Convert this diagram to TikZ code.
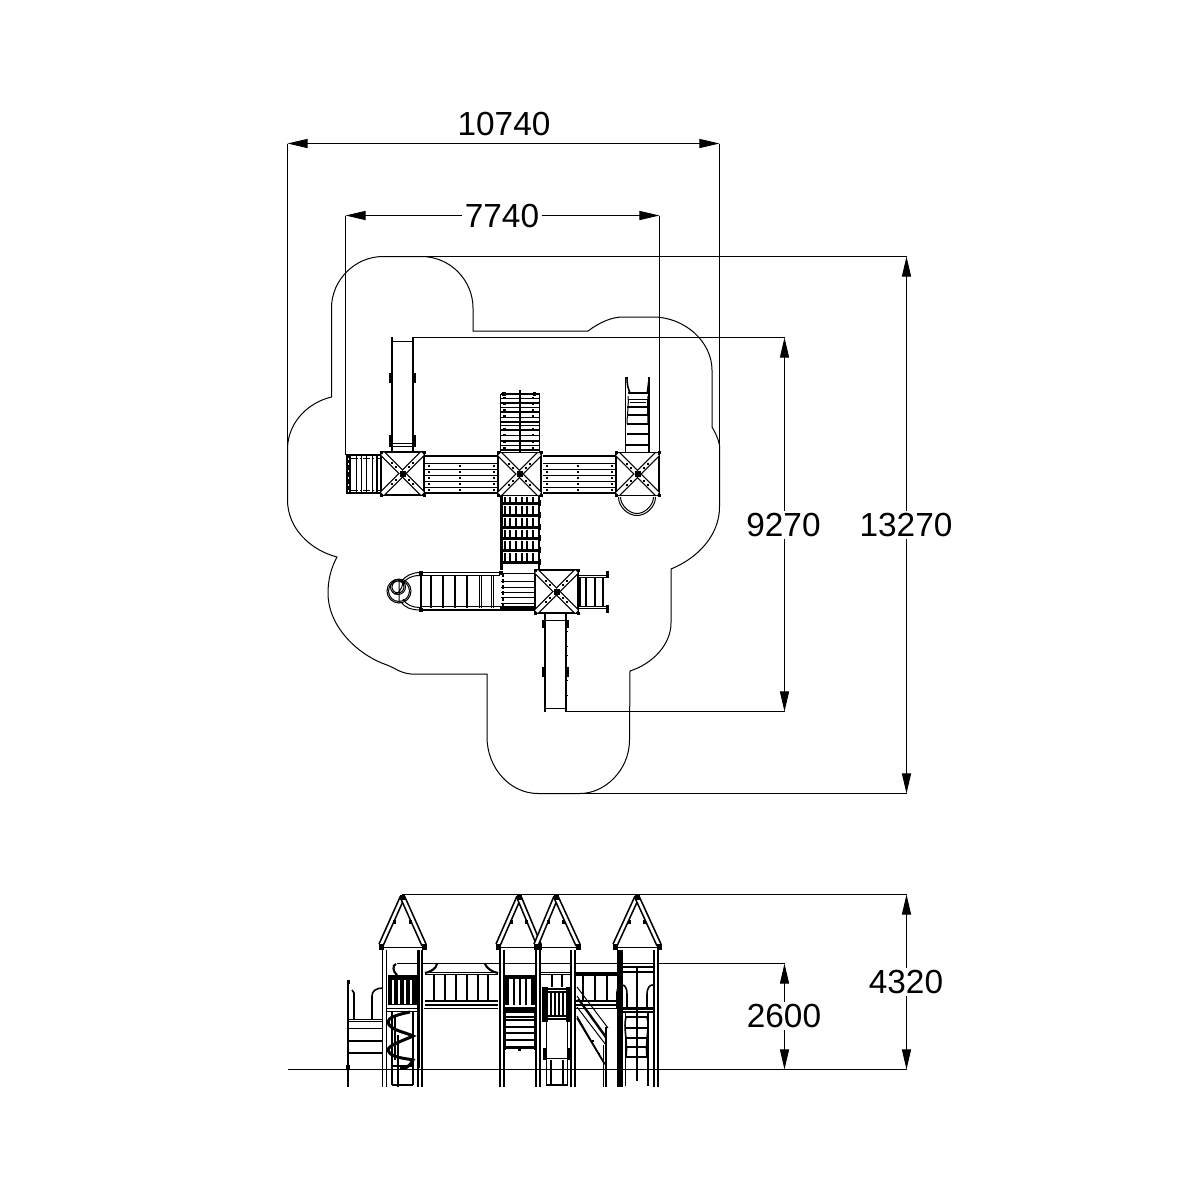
\documentclass[tikz,border=0pt]{standalone}
\usepackage{fontspec}
\setmainfont{Liberation Sans}
\usetikzlibrary{arrows.meta}
\tikzset{
 hair/.style={line width=0.57pt,black},
 med/.style={line width=0.9pt,black},
 heavy/.style={line width=1.5pt,black},
 bar/.style={line width=0.7pt,black,double=white,double distance=2.1pt},
 rafter/.style={line width=0.95pt,black,double=white,double distance=1.5pt},
 post/.style={line width=0.8pt,black,double=white,double distance=1.4pt},
 dim/.style={hair,{Triangle[length=11.5pt,width=5.2pt]}-{Triangle[length=11.5pt,width=5.2pt]}},
 dimtext/.style={font=\fontsize{19}{19}\selectfont,inner sep=1.5pt,fill=white},
 dimtop/.style={font=\fontsize{19}{19}\selectfont,inner sep=0pt}
}
% tower seen from above, 43 x 43 local
\newcommand{\plantower}[2]{
 \begin{scope}[shift={(#1,#2)}]
  \draw[med,fill=white] (0,0) rectangle (43,43);
  \draw[bar] (1.5,1.5) -- (20,20);
  \draw[bar] (41.5,1.5) -- (23,20);
  \draw[bar] (1.5,41.5) -- (20,23);
  \draw[bar] (41.5,41.5) -- (23,23);
  \fill (18.5,18.5) rectangle (24.5,24.5);
  \foreach \p/\q in {0/0,43/0,0/43,43/43}{\fill (\p-1.5,\q-1.5) rectangle (\p+1.5,\q+1.5);}
  \foreach \p/\q in {11/11,32/11,11/32,32/32,15/15,28/15,15/28,28/28}{\fill (\p-1,\q-1) rectangle (\p+1,\q+1);}
 \end{scope}}
% deck seen from above
\newcommand{\plandeck}[2]{
 \begin{scope}[shift={(#1,#2)}]
  \draw[heavy] (0,0)--(73,0) (0,37)--(73,37);
  \foreach \y in {7,13,19,25,31}{\draw[hair] (0,\y+.5)--(73,\y+.5);}
  \foreach \y in {10,16,22,28,34}{\foreach \x in {4,35,69}{\fill (\x-.8,\y-.8) rectangle (\x+.8,\y+.8);}}
 \end{scope}}
% tower roof seen from the side
\newcommand{\roof}[3]{
 \draw[hair] (#1,947.5)--(#2,947.5);
 \draw[rafter] (#3,897)--(#1,945);
 \draw[rafter] (#3,897)--(#2,945);
 \fill (#3-2.5,894.5) rectangle (#3+2.5,900);
 \fill (#1-2.5,943.5) rectangle (#1+2.5,949.5);
 \fill (#2-2.5,943.5) rectangle (#2+2.5,949.5);
 \fill ({(#3*2+#1)/3-2},920) rectangle ({(#3*2+#1)/3+1},924);
 \fill ({(#3*2+#2)/3-1},920) rectangle ({(#3*2+#2)/3+2},924);}
\begin{document}
\begin{tikzpicture}[x=0.02cm,y=-0.02cm]
\useasboundingbox (0,0) rectangle (1201,1201);
\fill[white] (0,0) rectangle (1201,1201);
% safety zone
\draw[hair] (383,256.5) -- (421.5,256.5) .. controls (450,256.5) and (473,280) .. (473,308) -- (473,331) -- (588,331)
 .. controls (600,322) and (612,317) .. (623,317) -- (653,317) .. controls (685,317) and (712,342) .. (712,370) -- (712,427)
 .. controls (715,432) and (718,438) .. (719.5,445) -- (719.5,507) .. controls (719.5,535) and (698,558) .. (671,569) -- (671,623)
 .. controls (671,645) and (652,664) .. (630,671) -- (629.5,740) .. controls (629.5,770) and (605,793.5) .. (580,793.5) -- (538,793.5)
 .. controls (510,793.5) and (487,768) .. (487,737) -- (487,674) -- (411,674) .. controls (400,673) and (395,668) .. (387,665)
 .. controls (360,656) and (328,628) .. (328,593) .. controls (328,580) and (331,568) .. (337,557)
 .. controls (310,550) and (287.5,528) .. (287.5,500) -- (287.5,447) .. controls (289,420) and (310,402) .. (331.5,397) -- (331.5,308)
 .. controls (331.5,280) and (355,256.5) .. (383,256.5) -- cycle;
% dimension anchors
\coordinate (wl) at (287.5,143.5); \coordinate (wr) at (719.5,143.5);
\coordinate (wlb) at (287.5,447); \coordinate (wrb) at (719.5,445);
\coordinate (nl) at (345.5,215.5); \coordinate (nr) at (659.5,215.5);
\coordinate (nlb) at (345.5,455); \coordinate (nrb) at (659.5,453);
\coordinate (ht) at (906.5,256.5); \coordinate (hb) at (906.5,793.5);
\coordinate (htl) at (421,256.5); \coordinate (hbl) at (575,793.5);
\coordinate (it) at (784.5,337.5); \coordinate (ib) at (784.5,711.5);
\coordinate (itl) at (413,337.5); \coordinate (ibl) at (566,711.5);
\coordinate (et) at (906.5,894.5); \coordinate (eb) at (906.5,1069.5);
\coordinate (etl) at (402,894.5); \coordinate (ebl) at (287.5,1069.5);
\coordinate (ft) at (784.5,963.5); \coordinate (fb) at (784.5,1069.5);
\coordinate (ftl) at (397,963.5);
\draw[hair] (wl)--(wlb) (wr)--(wrb) (nl)--(nlb) (nr)--(nrb);
\draw[hair] (htl)--(ht) (hbl)--(hb) (itl)--(it) (ibl)--(ib) (etl)--(et) (ftl)--(ft);
\draw[dim] (wl)--(wr);
\draw[dim] (nl)--(nr);
\draw[dim] (ht)--(hb);
\draw[dim] (it)--(ib);
\draw[dim] (et)--(eb);
\draw[dim] (ft)--(fb);
\node[dimtop] (t10740) at (504,124) {10740};
\node[dimtext] (t7740) at (502,216) {7740};
\node[dimtext] (t13270) at (906,525) {13270};
\node[dimtext] (t9270) at (783.5,525) {9270};
\node[dimtext] (t4320) at (906,982) {4320};
\node[dimtext] (t2600) at (784,1016) {2600};
%% ---------- PLAN ----------
% left slide
\draw[heavy] (392,337)--(392,452) (413,337)--(413,452);
\draw[hair] (392,341.5)--(413,341.5) (392,443.5)--(413,443.5) (392,446.5)--(413,446.5);
\foreach \a/\b in {373/383,435/447}{\draw[line width=2pt] (391.2,\a)--(391.2,\b) (413.8,\a)--(413.8,\b);}
% left ladder
\fill (346,454) rectangle (351,494);
\draw[med] (346,455)--(380,455) (346,493)--(380,493);
\draw[hair,dash pattern=on 4pt off 1pt on 1pt off 1pt] (351,458.5)--(380,458.5) (351,490.5)--(380,490.5);
\foreach \x in {356.5,361.5,366.5,372.5}{\draw[hair] (\x,455)--(\x,493);}
\draw[med] (377,455)--(377,493);
\foreach \y in {458,463,470,477,484,490}{\fill[white] (347.5,\y) rectangle (348.5,\y+1.5);}
% decks
\plandeck{425}{456}
\plandeck{543}{456}
% climbing frame above tower 2
\draw[hair] (500.5,394)--(500.5,453) (539.5,394)--(539.5,453);
\foreach \y/\w in {394/med,398.5/hair,403/med,407.5/hair,412/med,417.5/hair,422/heavy,425.5/hair,430/heavy,435.5/hair,441/heavy,445.5/hair,450/med}{\draw[\w] (500.5,\y)--(539.5,\y);}
\draw[line width=1.5pt] (520,390)--(520,452);
\foreach \y in {397,403,409,415,421,428,434,441,447}{\fill (503,\y) rectangle (506,\y+2);\fill (531.5,\y) rectangle (533.5,\y+1.5);}
\fill (502,392) rectangle (505.5,396); \fill (533,392) rectangle (536,396);
% right ladder
\draw[hair] (625.5,377)--(625.5,453);
\draw[heavy] (649,377)--(649,453);
\draw[med] (627,377) .. controls (627,385) and (628,388) .. (630,393);
\fill (646.5,393)--(648.5,377)--(649.5,393)--cycle;
\foreach \y/\l/\r/\w in {393/628/648/heavy,399/628/648/hair,407/627/648/med,415/627/648/med,424/627/648/med,434/627/648/med,445/626/648/med}{\draw[\w] (\l,\y)--(\r,\y);}
\draw[hair] (628,396) .. controls (629,405) and (627,415) .. (627,424);
\draw[hair] (648,396) .. controls (647,405) and (648,415) .. (648,424);
\draw[hair] (630,402)--(646,402);
% towers of the top row
\plantower{381}{452}
\plantower{498}{452.5}
\plantower{616}{452.5}
% half circle below tower 3
\draw[hair] (618.5,497) .. controls (618.5,507) and (628,515.5) .. (637,515.5) .. controls (646,515.5) and (655.5,507) .. (655.5,497);
\draw[hair] (620.5,497) .. controls (620.5,505) and (629,513.5) .. (637,513.5) .. controls (645,513.5) and (653.5,505) .. (653.5,497);
% net between towers 2 and 4
\draw[line width=1.5pt] (501.5,496)--(501.5,570) (539,496)--(539,570);
\foreach \y in {503,515,527,538,550,562}{\draw[line width=1.7pt] (500,\y)--(541,\y);
  \fill (499.5,\y-3) rectangle (502.5,\y+3); \fill (538,\y-3) rectangle (541,\y+3);}
\foreach \y/\z in {497/502,506/514,518/526,530/537,541/549,553/561}{
  \foreach \x in {505,510,516,522,527,533}{\draw[line width=.8pt] (\x,\y)--(\x,\z);}}
% deck beside tower 4
\foreach \y/\w in {573/hair,581/hair,587/hair,592/hair,597/hair,603/med}{\draw[\w] (501,\y+.5)--(535,\y+.5);}
\draw[line width=2.4pt] (500,608.5)--(535,608.5);
\draw[line width=1.5pt,dash pattern=on 2pt off 1.5pt] (503,573)--(503,608);
% ramp towards circles
\draw[hair] (421,572.5)--(500,572.5) (421,575.5)--(500,575.5) (421,606.5)--(500,606.5);
\draw[med] (421,610)--(500,610);
\draw[line width=1.5pt] (421,573)--(421,610);
\foreach \x in {431,443,455,467}{\draw[heavy] (\x,575)--(\x,608);}
\foreach \x in {479.5,481.5,491.5,493.5}{\draw[hair] (\x,575)--(\x,608);}
\fill (418.5,570.5) rectangle (423,575); \fill (418.5,607.5) rectangle (423,612);
\fill (498.5,570.5) rectangle (503,575);
% round end and circles
\draw[hair] (420,572.5) .. controls (412,572.5) and (405,576) .. (401,582);
\draw[hair] (420,575.5) .. controls (412,575.5) and (406,578) .. (403,584);
\draw[hair] (420,610) .. controls (412,610) and (405,608) .. (401,602);
\draw[hair] (420,607.5) .. controls (413,607.5) and (406,605) .. (403,599);
\draw[hair] (399,591) circle (12);
\draw[hair] (399,591) circle (10.5);
\draw[hair] (398,587) circle (7.5);
\draw[hair] (398,587) circle (6);
\draw[hair] (399,580)--(399,603) (394,594) .. controls (398,594) and (402,590) .. (403,582);
% right steps of tower 4
\draw[hair] (578,575.5)--(607,575.5) (578,577.5)--(607,577.5) (578,606.5)--(607,606.5) (578,608.5)--(607,608.5);
\draw[line width=1.7pt] (579.5,577)--(579.5,607);
\foreach \x in {586,595,603}{\draw[heavy] (\x,577)--(\x,607);}
\fill (606,571) rectangle (609,578); \fill (606,605) rectangle (609,613);
% lower slide
\draw[heavy] (545,613)--(545,712) (566,613)--(566,712);
\draw[hair] (545,620.5)--(566,620.5) (545,708.5)--(566,708.5);
\foreach \a/\b in {620/628,667/677}{\draw[line width=2pt] (544.2,\a)--(544.2,\b) (566.8,\a)--(566.8,\b);}
\foreach \y in {631,646,655,670,680,695}{\fill (566.5,\y) rectangle (567.6,\y+1);}
\plantower{535}{570}
%% ---------- ELEVATION ----------
% A-B rails
\draw[hair] (425,972.5)--(498,972.5) (425,974.5)--(498,974.5);
\draw[med] (425,1001)--(498,1001) (425,1005)--(498,1005) ;
\draw[med] (424,1008.5)--(498,1008.5);
\draw[line width=1.2pt] (425,973) .. controls (430,972) and (436,969) .. (437,964);
\draw[line width=1.2pt] (498,973) .. controls (493,972) and (487,969) .. (485,964);
\foreach \x in {434,445,456,467,478,488}{\draw[heavy] (\x,975)--(\x,1001);}
% B-C / C-D rails
\draw[med] (575,973)--(617,973) (575,975)--(617,975) (575,1001)--(617,1001) (575,1005)--(617,1005) (575,1008.5)--(617,1008.5);
\foreach \x in {583,595,607}{\draw[heavy] (\x,975)--(\x,1001);}
\draw[hair] (540,972.5)--(575,972.5) (540,974.5)--(575,974.5);
\foreach \x in {552,562}{\draw[heavy] (\x,975)--(\x,987);}
% far left stair
\draw[line width=1.7pt] (348,982)--(348,1087);
\draw[med] (352,990)--(354,993)--(354,1019);
\draw[med] (372,1019)--(372,996) .. controls (372,991) and (376,988) .. (383,988);
\draw[hair] (348,1019.5)--(382,1019.5) (348,1021.5)--(382,1021.5) (348,1028.5)--(382,1028.5);
\draw[heavy] (349,1041)--(382,1041) (349,1053)--(382,1053);
\fill (346.5,980) rectangle (350,984);
\fill (346,1065) rectangle (350,1069);
% tower A interior
\fill (388,975) rectangle (417,1005);
\foreach \x in {393,399,405,411}{\fill[white] (\x-.8,980) rectangle (\x+.8,1004);}
\draw[line width=1.2pt] (396,964) .. controls (392,965) and (393,972) .. (397,975);
\draw[hair] (384,1008.5)--(421,1008.5) (384,1011.5)--(421,1011.5);
\draw[med] (392,1012)--(392,1085) (413,1012)--(413,1085);
\draw[med] (392,1085)--(413,1085);
\draw[line width=1.6pt] (392,1066)--(413,1066);
\draw[line width=1.7pt] (410,1012) .. controls (395,1015) and (388,1018) .. (388,1022) .. controls (389,1030) and (405,1032) .. (413,1036)
  .. controls (405,1040) and (388,1045) .. (388,1050) .. controls (390,1058) and (405,1058) .. (413,1060) .. controls (410,1066) and (405,1070) .. (400,1068);
\draw[line width=1.4pt] (398,1035)--(398,1087);
\draw[med] (395,1015)--(395,1060);
% tower B interior
\fill (505,975) rectangle (535,979);
\foreach \x in {508,514,520,526,532}{\draw[line width=1.4pt] (\x,975)--(\x,1005);}
\draw[line width=2pt] (506,976)--(506,1005) (534,976)--(534,1005);
\draw[line width=1.2pt] (502,1008.5)--(537,1008.5) (502,1011.5)--(537,1011.5);
\draw[line width=1.7pt] (505,1012)--(505,1050) (535,1012)--(535,1050);
\foreach \y in {1017,1020,1027,1033,1040}{\draw[heavy] (505,\y)--(535,\y);}
\draw[line width=1.7pt] (505,1047)--(535,1047);
\fill (517.5,1047) rectangle (521,1051);
% tower C interior
\fill (542,987) rectangle (548,1022); \fill (566,987) rectangle (572,1022);
\draw[med] (546,989)--(568,989) (546,992)--(568,992);
\foreach \x in {551,555,559,563}{\draw[med] (\x,992)--(\x,1016);}
\draw[line width=1.2pt] (546,1016)--(568,1016);
\draw[med] (546,1019)--(568,1019);
\draw[hair] (546.5,1019)--(546.5,1085) (567.5,1019)--(567.5,1085);
\draw[hair] (546,1058.5)--(568,1058.5);
\draw[med] (546,1085)--(568,1085);
\draw[line width=1.4pt] (551,1060)--(551,1085) (563,1060)--(563,1085);
\fill (543,1048) rectangle (546,1060); \fill (568,1048) rectangle (570.5,1060);
% stair
\draw[hair] (577,987)--(608,1028);
\draw[hair] (577,996)--(606,1036) (577,1007)--(606,1045) (577,1016)--(606,1066) ;
\draw[med] (578,999)--(606,1038);
\draw[med] (577,1018)--(604,1063);
\draw[line width=1.3pt] (606,1027)--(606,1087);
\draw[hair] (603,1045)--(603,1087);
\foreach \p/\q in {584/1030,592/1040,598/1053}{\fill (\p,\q) rectangle (\p+2,\q+2);}
% tower D interior
\draw[med] (620,967)--(655,967);
\draw[med] (617,972)--(655,972);
\draw[line width=1.2pt] (637,967)--(637,1081);
\draw[med] (617,1008)--(617,992) .. controls (617,987) and (621,985) .. (622,985) .. controls (625,985) and (627,988) .. (627,994)--(627,1008);
\draw[med] (647,1008)--(647,994) .. controls (647,988) and (650,985) .. (652,985) .. controls (655,985) and (657,988) .. (657,992)--(657,1008);
\draw[line width=1.3pt] (617,1008.5)--(656,1008.5);
\draw[med] (617,1012)--(656,1012);
\draw[hair] (625.5,1012)--(625.5,1086);
\draw[line width=1.5pt] (648,1012)--(648,1086);
\foreach \y in {1017,1028,1038,1047,1057}{\draw[heavy] (626,\y)--(647,\y);}
\draw[med] (626,1017) .. controls (623,1028) and (628,1040) .. (626,1057);
\draw[med] (647,1017) .. controls (650,1028) and (645,1040) .. (647,1057);
% posts
\foreach \x in {384.5,420,502,538,573,656}{\draw[post] (\x,950)--(\x,1087);}
\draw[line width=1.4pt] (618.5,950)--(618.5,1087) (621.5,950)--(621.5,1087);
\draw[line width=1.2pt] (419,950)--(419,1068);
% ground line runs over the posts
\draw[hair] (ebl)--(eb);
% roofs
\roof{381}{424}{402.5}
\roof{498}{539}{519}
\roof{536}{578}{556}
\roof{615}{659}{637}
\end{tikzpicture}
\end{document}
